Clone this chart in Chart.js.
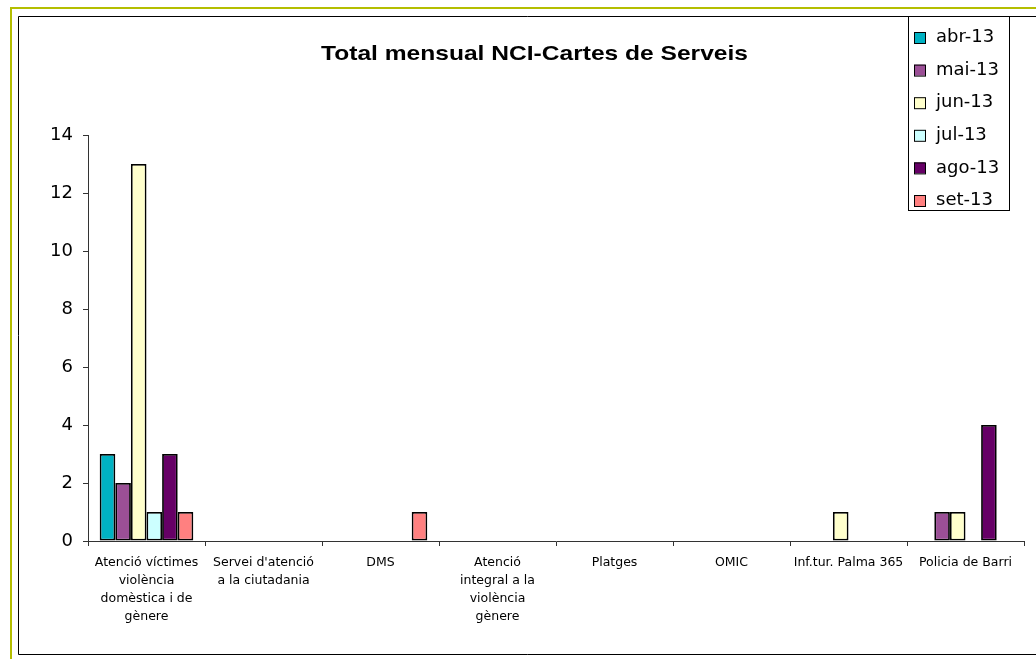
<!DOCTYPE html>
<html lang="ca">
<head>
<meta charset="UTF-8" />
<title>Total mensual NCI-Cartes de Serveis</title>
<script src="https://cdn.jsdelivr.net/npm/chart.js"></script>
<style>
  html, body { margin: 0; padding: 0; background: #fff; }
  #wrap { width: 1036px; height: 659px; }
</style>
</head>
<body>
<div id="wrap"><canvas id="chart" width="1036" height="659"></canvas></div>
<script>
  // categories (wrapped as in the original)
  const categories = [
    ['Atenció víctimes', 'violència', 'domèstica i de', 'gènere'],
    ["Servei d'atenció", 'a la ciutadania'],
    ['DMS'],
    ['Atenció', 'integral a la', 'violència', 'gènere'],
    ['Platges'],
    ['OMIC'],
    ['Inf.tur. Palma 365'],
    ['Policia de Barri']
  ];
  const months = ['abr-13', 'mai-13', 'jun-13', 'jul-13', 'ago-13', 'set-13'];
  const abr13 = [3, 0, 0, 0, 0, 0, 0, 0];
  const mai13 = [2, 0, 0, 0, 0, 0, 0, 1];
  const jun13 = [13, 0, 0, 0, 0, 0, 1, 1];
  const jul13 = [1, 0, 0, 0, 0, 0, 0, 0];
  const ago13 = [3, 0, 0, 0, 0, 0, 0, 4];
  const set13 = [1, 0, 1, 0, 0, 0, 0, 0];
  const yTicks = [0, 2, 4, 6, 8, 10, 12, 14];
  const title = 'Total mensual NCI-Cartes de Serveis';

  const colors = ['#00B2C3', '#9B4F96', '#FFFFCC', '#CCFFFF', '#660066', '#FF8080'];
  const series = [abr13, mai13, jun13, jul13, ago13, set13];

  const ARIAL = 'Arial, "Liberation Sans", sans-serif';
  const DEJAVU = '"DejaVu Sans", sans-serif';

  // frame, title and legend drawn around the chart
  const decor = {
    id: 'decor',
    beforeDraw(chart) {
      const c = chart.ctx;
      c.save();
      c.fillStyle = '#fff';
      c.fillRect(0, 0, chart.width, chart.height);
      c.strokeStyle = '#B4BE00';
      c.lineWidth = 2;
      c.beginPath();
      c.moveTo(11, 659); c.lineTo(11, 8); c.lineTo(1036, 8);
      c.stroke();
      c.strokeStyle = '#000';
      c.lineWidth = 1;
      c.beginPath();
      c.moveTo(18.5, 16.5); c.lineTo(1036, 16.5);
      c.moveTo(18.5, 16.5); c.lineTo(18.5, 654.5); c.lineTo(1036, 654.5);
      c.stroke();
      // title, slightly stretched like the original
      c.translate(534.5, 60);
      c.scale(1.17, 1);
      c.font = 'bold 21px ' + ARIAL;
      c.fillStyle = '#000';
      c.textAlign = 'center';
      c.textBaseline = 'alphabetic';
      c.fillText(title, 0, 0);
      c.restore();
    },
    afterDraw(chart) {
      const c = chart.ctx;
      c.save();
      c.fillStyle = '#fff';
      c.fillRect(908, 16, 101, 194);
      c.strokeStyle = '#000';
      c.lineWidth = 1;
      c.strokeRect(908.5, 16.5, 101, 194);
      c.font = '18px ' + DEJAVU;
      c.textBaseline = 'middle';
      chart.data.datasets.forEach((ds, i) => {
        const y = 37.5 + i * 32.6;
        c.fillStyle = ds.backgroundColor;
        c.fillRect(914, y - 5.5, 11, 11);
        c.strokeStyle = '#000';
        c.strokeRect(914.5, y - 5, 11, 11);
        c.fillStyle = '#000';
        c.fillText(ds.label, 936, y);
      });
      c.restore();
    }
  };

  new Chart(document.getElementById('chart'), {
    type: 'bar',
    data: {
      labels: categories,
      datasets: months.map((m, i) => ({
        label: m,
        data: series[i],
        backgroundColor: colors[i],
        borderColor: '#000',
        borderWidth: 1.8,
        borderSkipped: false,
        categoryPercentage: 0.8,
        barPercentage: 1
      }))
    },
    options: {
      responsive: false,
      animation: false,
      layout: { padding: { left: 40, right: 12, top: 135, bottom: 25 } },
      plugins: {
        legend: { display: false },
        tooltip: { enabled: false },
        title: { display: false }
      },
      scales: {
        x: {
          grid: { display: true, drawOnChartArea: false, drawTicks: true, tickLength: 5, color: '#333', offset: true },
          border: { color: '#333', width: 1 },
          ticks: {
            color: '#000',
            font: { family: DEJAVU, size: 12.5, lineHeight: 1.44 },
            padding: 8,
            maxRotation: 0,
            autoSkip: false
          }
        },
        y: {
          min: 0,
          max: 14,
          afterBuildTicks(scale) { scale.ticks = yTicks.map(v => ({ value: v })); },
          afterFit(scale) { scale.width = 48; },
          grid: { display: true, drawOnChartArea: false, drawTicks: true, tickLength: 5, color: '#333' },
          border: { color: '#333', width: 1 },
          ticks: {
            color: '#000',
            font: { family: DEJAVU, size: 18 },
            padding: 10
          }
        }
      }
    },
    plugins: [decor]
  });
</script>
</body>
</html>
